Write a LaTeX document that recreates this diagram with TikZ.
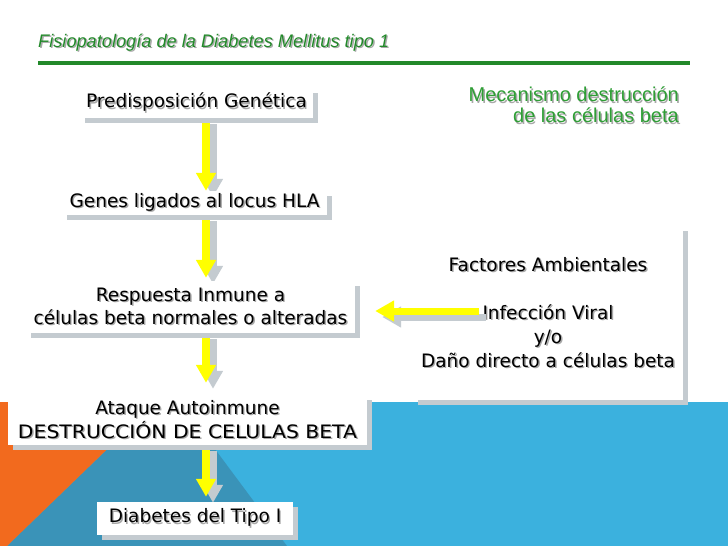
\documentclass[tikz,border=0pt]{standalone}
\usepackage{fontspec}
\setmainfont{DejaVu Sans}
\newfontfamily\arialf{Liberation Sans}
\newfontfamily\widef[FakeStretch=1.1]{DejaVu Sans}
\usetikzlibrary{arrows.meta,shadows,calc}
\definecolor{lblue}{HTML}{3BB1DE}
\definecolor{dblue}{HTML}{3A93B8}
\definecolor{orng}{HTML}{F26A1E}
\definecolor{sgray}{HTML}{C4CBD0}
\definecolor{tgreen}{HTML}{22892A}
\definecolor{mgreen}{HTML}{2E9E35}
\definecolor{yel}{HTML}{FFFF00}
\definecolor{tshadow}{HTML}{A8A8A8}
\newcommand\shd[1]{\makebox[0pt][l]{\hspace{1.4pt}\raisebox{-1.4pt}{\textcolor{tshadow}{#1}}}#1}
\newcommand\yarr[3][]{%
  \draw[yarrow,draw=sgray,transform canvas={xshift=7pt,yshift=-6pt},#1] #2 -- #3;
  \draw[yarrow,#1] #2 -- #3;}
\pgfdeclarelayer{bg}\pgfdeclarelayer{arr}\pgfsetlayers{bg,arr,main}
\begin{document}
\begin{tikzpicture}[x=1pt,y=-1pt,
 box/.style={fill=white, inner sep=0pt, align=center, font=\fontsize{18.5}{23}\selectfont,
   general shadow={fill=sgray, shadow xshift=5pt, shadow yshift=-5pt}},
 yarrow/.style={draw=yel, line width=8pt, -{Triangle[width=19pt,length=18pt]}}]
\useasboundingbox (0,0) rectangle (728,546);
\begin{pgfonlayer}{bg}
\fill[white] (0,0) rectangle (728,546);
\fill[lblue] (0,402) rectangle (728,546);
\fill[dblue] (156,402) -- (180,402) -- (287,546) -- (7,546) -- cycle;
\fill[orng] (0,402) -- (156,402) -- (7,546) -- (0,546) -- cycle;
\end{pgfonlayer}

\node[anchor=base west, font=\arialf\itshape\fontsize{18.2}{20}\selectfont, text=tgreen, inner sep=0pt] (title) at (38,47) {\shd{Fisiopatología de la Diabetes Mellitus tipo 1}};
\draw[tgreen, line width=4pt] (38,63) -- (690,63);
\node[anchor=north east, align=right, font=\arialf\fontsize{20}{21}\selectfont, text=mgreen, inner sep=0pt] (mec) at (679,87) {\shd{Mecanismo destrucción}\\\shd{de las células beta}};

\node[box, minimum width=233pt, minimum height=30pt] (b1) at (196.5,103) {\shd{Predisposición Genética}};
\node[box, minimum width=265pt, minimum height=24pt] (b2) at (194.5,203) {\shd{Genes ligados al locus HLA}};
\node[box, minimum width=329pt, minimum height=52pt] (b3) at (190.5,307) {\shd{Respuesta Inmune a}\\\shd{células beta normales o alteradas}};
\node[box, minimum width=359pt, minimum height=50pt, font=\fontsize{18.5}{24}\selectfont] (b4) at (187.5,420) {\shd{Ataque Autoinmune}\\{\widef\shd{DESTRUCCIÓN DE CELULAS BETA}}};
\node[box, minimum width=196pt, minimum height=33pt] (b5) at (195,518.5) {\shd{Diabetes del Tipo I}};
\node[box, minimum width=270pt, minimum height=174pt, font=\fontsize{18.5}{24}\selectfont] (fa) at (548,313) {\shd{Factores Ambientales}\\[24pt]\shd{Infección Viral}\\\shd{y/o}\\\shd{Daño directo a células beta}};

\coordinate (ax) at (206,0);
\begin{pgfonlayer}{arr}
\yarr{(b1.south -| ax)}{(b2.north -| ax)}
\yarr{(b2.south -| ax)}{($(b3.north -| ax)+(0,-3)$)}
\yarr{(b3.south -| ax)}{($(b4.north -| ax)+(0,-12)$)}
\yarr{(b4.south -| ax)}{($(b5.north -| ax)+(0,-5)$)}
\end{pgfonlayer}
\coordinate (hs) at ($(fa.west)+(66,-2)$);
\yarr[line width=7pt, -{Triangle[width=20pt,length=19pt]}]{(hs)}{($(b3.east |- hs)+(20,0)$)}
\end{tikzpicture}
\end{document}
